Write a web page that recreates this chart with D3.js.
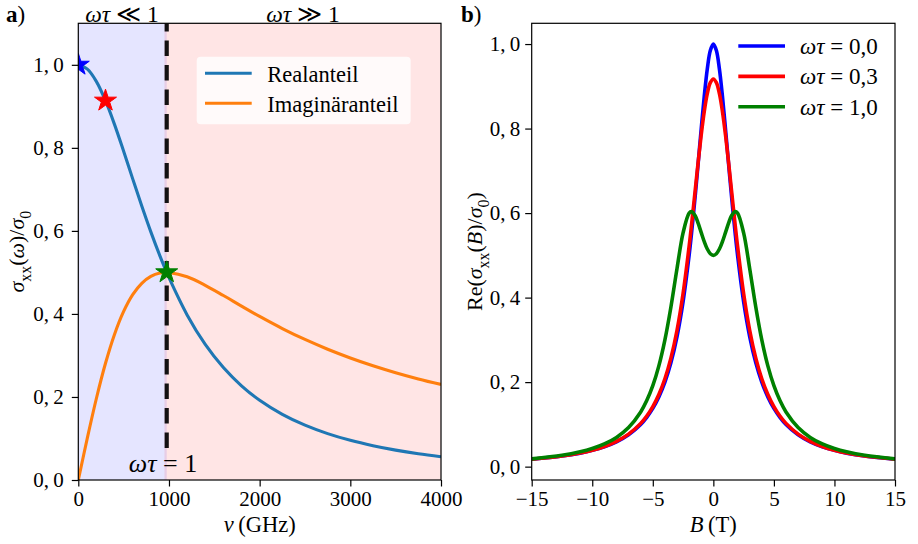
<!DOCTYPE html>
<html>
<head>
<meta charset="utf-8">
<script src="https://cdn.jsdelivr.net/npm/d3@7"></script>
<style>
  html, body { margin: 0; padding: 0; background: #fff; }
  svg { display: block; }
  text { font-family: "Liberation Serif", "DejaVu Serif", serif; fill: #000; }
</style>
</head>
<body>
<svg id="fig" width="918" height="544"></svg>
<script>
// ---- (a) Drude conductivity vs. frequency ----
const nuGHz   = [0, 100, 200, 300, 400, 500, 600, 700, 800, 900, 975, 1000, 1200, 1400, 1600, 1800,
                 2000, 2250, 2500, 2750, 3000, 3250, 3500, 3750, 4000];
const realPart = [1, 0.9896, 0.9596, 0.9135, 0.8559, 0.7918, 0.7253, 0.6599, 0.5976, 0.5399, 0.5, 0.4873,
                  0.3977, 0.3266, 0.2708, 0.2269, 0.1920, 0.1581, 0.1320, 0.1117, 0.0955, 0.0826, 0.0720,
                  0.0633, 0.0561];
const imagPart = [0, 0.1015, 0.1969, 0.2811, 0.3512, 0.4060, 0.4464, 0.4738, 0.4904, 0.4984, 0.5, 0.4998,
                  0.4894, 0.4690, 0.4444, 0.4188, 0.3939, 0.3648, 0.3385, 0.3150, 0.2940, 0.2752, 0.2585,
                  0.2435, 0.2301];
const seriesA = [
  { name: "Realanteil",     values: realPart, color: "#1f77b4" },
  { name: "Imaginäranteil", values: imagPart, color: "#ff7f0e" }
];
const starNu    = [0, 300, 975];
const starVal   = [1, 0.9135, 0.5];
const starColor = ["#0000ff", "#ff0000", "#008000"];
const nuCross = 975;
const nuTicks = [0, 1000, 2000, 3000, 4000];
const yTicksA = [0, 0.2, 0.4, 0.6, 0.8, 1.0];

// ---- (b) longitudinal magnetoconductivity ----
const fieldT = [-15, -12.5, -11, -10, -9, -8, -7, -6, -5.5, -5, -4.5, -4, -3.5, -3, -2.5, -2, -1.8, -1.5,
                -1.25, -1, -0.75, -0.5, -0.25, 0, 0.25, 0.5, 0.75, 1, 1.25, 1.5, 1.8, 2, 2.5, 3, 3.5, 4,
                4.5, 5, 5.5, 6, 7, 8, 9, 10, 11, 12.5, 15];
const sigWt00 = [0.0175, 0.025, 0.032, 0.0385, 0.0471, 0.0588, 0.0755, 0.1, 0.1168, 0.1379, 0.165, 0.2,
                 0.2462, 0.3077, 0.3902, 0.5, 0.5525, 0.64, 0.7191, 0.8, 0.8767, 0.9412, 0.9846, 1,
                 0.9846, 0.9412, 0.8767, 0.8, 0.7191, 0.64, 0.5525, 0.5, 0.3902, 0.3077, 0.2462, 0.2,
                 0.165, 0.1379, 0.1168, 0.1, 0.0755, 0.0588, 0.0471, 0.0385, 0.032, 0.025, 0.0175];
const sigWt03 = [0.0176, 0.0251, 0.0323, 0.0388, 0.0476, 0.0597, 0.0769, 0.1024, 0.1199, 0.1422, 0.1708,
                 0.2080, 0.2573, 0.3228, 0.4098, 0.5214, 0.5726, 0.6536, 0.7217, 0.7856, 0.8407, 0.8826,
                 0.9086, 0.9174, 0.9086, 0.8826, 0.8407, 0.7856, 0.7217, 0.6536, 0.5726, 0.5214, 0.4098,
                 0.3228, 0.2573, 0.2080, 0.1708, 0.1422, 0.1199, 0.1024, 0.0769, 0.0597, 0.0476, 0.0388,
                 0.0323, 0.0251, 0.0176];
const sigWt10 = [0.0184, 0.0268, 0.0351, 0.0429, 0.0537, 0.0692, 0.0925, 0.1294, 0.1563, 0.1916, 0.2384,
                 0.3, 0.3784, 0.4690, 0.5531, 0.6, 0.6035, 0.5937, 0.5757, 0.5538, 0.5325, 0.5151, 0.5039,
                 0.5, 0.5039, 0.5151, 0.5325, 0.5538, 0.5757, 0.5937, 0.6035, 0.6, 0.5531, 0.4690, 0.3784,
                 0.3, 0.2384, 0.1916, 0.1563, 0.1294, 0.0925, 0.0692, 0.0537, 0.0429, 0.0351, 0.0268, 0.0184];
const seriesB = [
  { label: "0,0", values: sigWt00, color: "#0000ff" },
  { label: "0,3", values: sigWt03, color: "#ff0000" },
  { label: "1,0", values: sigWt10, color: "#008000" }
];
const bTicks  = [-15, -10, -5, 0, 5, 10, 15];
const yTicksB = [0, 0.2, 0.4, 0.6, 0.8, 1.0];

const svg = d3.select("#fig");
const FS = 21;
const commaFmt = d => d3.format(".1f")(d).replace(".", ",\u2009");

// text built from pieces: r = upright, i = italic, sub = upright subscript, b = bold
function richText(g, parts, size) {
  const t = g.append("text").attr("font-size", size);
  let shift = 0;
  parts.forEach(([s, kind]) => {
    const ts = t.append("tspan").text(s);
    const target = kind === "sub" ? 0.3 * size : 0;
    if (target !== shift) { ts.attr("dy", target - shift); shift = target; }
    if (kind === "i") ts.attr("font-style", "italic");
    if (kind === "sub") ts.attr("font-size", size * 0.72);
    if (kind === "b") ts.attr("font-weight", "bold");
  });
  return t;
}

function styleAxis(g) {
  g.selectAll(".domain").remove();
  g.selectAll(".tick line").attr("stroke", "#000").attr("stroke-width", 1.2);
  g.selectAll(".tick text").attr("font-size", FS)
    .attr("font-family", "'Liberation Serif', 'DejaVu Serif', serif").attr("fill", "#000");
}

// ================= panel (a) =================
const A = { l: 78.3, r: 441, t: 23.3, b: 480 };
const xA = d3.scaleLinear().domain([0, 4000]).range([A.l, A.r]);
const yA = d3.scaleLinear().domain([0, 1.1]).range([A.b, A.t]);

svg.append("clipPath").attr("id", "clipA").append("rect")
  .attr("x", A.l).attr("y", A.t).attr("width", A.r - A.l).attr("height", A.b - A.t);
const gA = svg.append("g");
const plotA = gA.append("g").attr("clip-path", "url(#clipA)");

plotA.append("rect").attr("x", xA(0)).attr("y", A.t)
  .attr("width", xA(nuCross) - xA(0)).attr("height", A.b - A.t)
  .attr("fill", "#0000ff").attr("fill-opacity", 0.1);
plotA.append("rect").attr("x", xA(nuCross - 25)).attr("y", A.t)
  .attr("width", xA(4000) - xA(nuCross - 25)).attr("height", A.b - A.t)
  .attr("fill", "#ff0000").attr("fill-opacity", 0.1);

// dashed marker at omega*tau = 1, drawn upward from its lower end
plotA.append("path")
  .attr("d", d3.line()([[xA(nuCross), yA(0.077)], [xA(nuCross), yA(1.1)]]))
  .attr("stroke", "#000").attr("stroke-opacity", 0.92).attr("stroke-width", 4.2)
  .attr("stroke-dasharray", "15.5,9").attr("fill", "none");

const lineA = d3.line().curve(d3.curveCatmullRom.alpha(0.5));
seriesA.forEach(s => {
  plotA.append("path")
    .attr("d", lineA(nuGHz.map((n, i) => [xA(n), yA(s.values[i])])))
    .attr("fill", "none").attr("stroke", s.color).attr("stroke-width", 3.1);
});

const starSym = d3.symbol().type(d3.symbolStar).size(150);
starNu.forEach((n, i) => {
  plotA.append("path").attr("d", starSym())
    .attr("transform", `translate(${xA(n)},${yA(starVal[i])})`)
    .attr("fill", starColor[i]).attr("stroke", starColor[i]).attr("stroke-width", 1);
});

// legend (a)
const legA = gA.append("g");
legA.append("rect").attr("x", 196.7).attr("y", 56.7).attr("width", 214).attr("height", 67.6)
  .attr("rx", 4).attr("fill", "#fff").attr("fill-opacity", 0.8);
seriesA.forEach((s, i) => {
  const yy = 73.3 + i * 30;
  legA.append("line").attr("x1", 205).attr("x2", 251.7).attr("y1", yy).attr("y2", yy)
    .attr("stroke", s.color).attr("stroke-width", 3.1);
  legA.append("text").attr("x", 267.3).attr("y", yy + 8.4).attr("font-size", 22.5).text(s.name);
});

// axes (a)
gA.append("g").attr("transform", `translate(0,${A.b})`)
  .call(d3.axisBottom(xA).tickValues(nuTicks).tickFormat(d3.format("d")).tickSize(6.5).tickPadding(5))
  .call(styleAxis);
gA.append("g").attr("transform", `translate(${A.l},0)`)
  .call(d3.axisLeft(yA).tickValues(yTicksA).tickFormat(commaFmt).tickSize(6.5).tickPadding(8))
  .call(styleAxis);
gA.append("rect").attr("x", A.l).attr("y", A.t).attr("width", A.r - A.l).attr("height", A.b - A.t)
  .attr("fill", "none").attr("stroke", "#000").attr("stroke-width", 1.2);

richText(gA, [["ν", "i"], ["\u2009(GHz)", "r"]], 22.5)
  .attr("x", (A.l + A.r) / 2).attr("y", 532).attr("text-anchor", "middle");
richText(gA, [["σ", "i"], ["xx", "sub"], ["(", "r"], ["ω", "i"], [")/", "r"], ["σ", "i"], ["0", "sub"]], 22)
  .attr("text-anchor", "middle")
  .attr("transform", `translate(24,${(A.t + A.b) / 2}) rotate(-90)`);

richText(gA, [["ωτ", "i"], [" ≪ 1", "r"]], 23.5)
  .attr("x", 122).attr("y", 21.5).attr("text-anchor", "middle");
richText(gA, [["ωτ", "i"], [" ≫ 1", "r"]], 23.5)
  .attr("x", 303).attr("y", 21.5).attr("text-anchor", "middle");
richText(gA, [["ωτ", "i"], [" = 1", "r"]], 26)
  .attr("x", 163).attr("y", 471.5).attr("text-anchor", "middle");
richText(gA, [["a", "b"], [")", "r"]], 23).attr("x", 6).attr("y", 22);

// ================= panel (b) =================
const B = { l: 531.7, r: 895, t: 23.3, b: 480 };
const xB = d3.scaleLinear().domain([-15, 15]).range([B.l, B.r]);
const yB = d3.scaleLinear().domain([-0.0316, 1.0491]).range([B.b, B.t]);

svg.append("clipPath").attr("id", "clipB").append("rect")
  .attr("x", B.l).attr("y", B.t).attr("width", B.r - B.l).attr("height", B.b - B.t);
const gB = svg.append("g");
const plotB = gB.append("g").attr("clip-path", "url(#clipB)");

const lineB = d3.line().curve(d3.curveCatmullRom.alpha(0.5));
seriesB.forEach(s => {
  plotB.append("path")
    .attr("d", lineB(fieldT.map((f, i) => [xB(f), yB(s.values[i])])))
    .attr("fill", "none").attr("stroke", s.color).attr("stroke-width", 3.6);
});

// legend (b)
seriesB.forEach((s, i) => {
  const yy = 46 + i * 30.4;
  gB.append("line").attr("x1", 738.3).attr("x2", 785).attr("y1", yy).attr("y2", yy)
    .attr("stroke", s.color).attr("stroke-width", 3.6);
  richText(gB, [["ωτ", "i"], [" = " + s.label, "r"]], 23).attr("x", 800).attr("y", yy + 8);
});

gB.append("g").attr("transform", `translate(0,${B.b})`)
  .call(d3.axisBottom(xB).tickValues(bTicks).tickFormat(d3.format("d")).tickSize(6.5).tickPadding(5))
  .call(styleAxis);
gB.append("g").attr("transform", `translate(${B.l},0)`)
  .call(d3.axisLeft(yB).tickValues(yTicksB).tickFormat(commaFmt).tickSize(6.5).tickPadding(5))
  .call(styleAxis);
gB.append("rect").attr("x", B.l).attr("y", B.t).attr("width", B.r - B.l).attr("height", B.b - B.t)
  .attr("fill", "none").attr("stroke", "#000").attr("stroke-width", 1.2);

richText(gB, [["B", "i"], ["\u2009(T)", "r"]], 22.5)
  .attr("x", (B.l + B.r) / 2).attr("y", 532).attr("text-anchor", "middle");
richText(gB, [["Re(", "r"], ["σ", "i"], ["xx", "sub"], ["(", "r"], ["B", "i"], [")/", "r"], ["σ", "i"], ["0", "sub"], [")", "r"]], 22)
  .attr("text-anchor", "middle")
  .attr("transform", `translate(482,${(B.t + B.b) / 2}) rotate(-90)`);
richText(gB, [["b", "b"], [")", "r"]], 23).attr("x", 461).attr("y", 22);
</script>
</body>
</html>
